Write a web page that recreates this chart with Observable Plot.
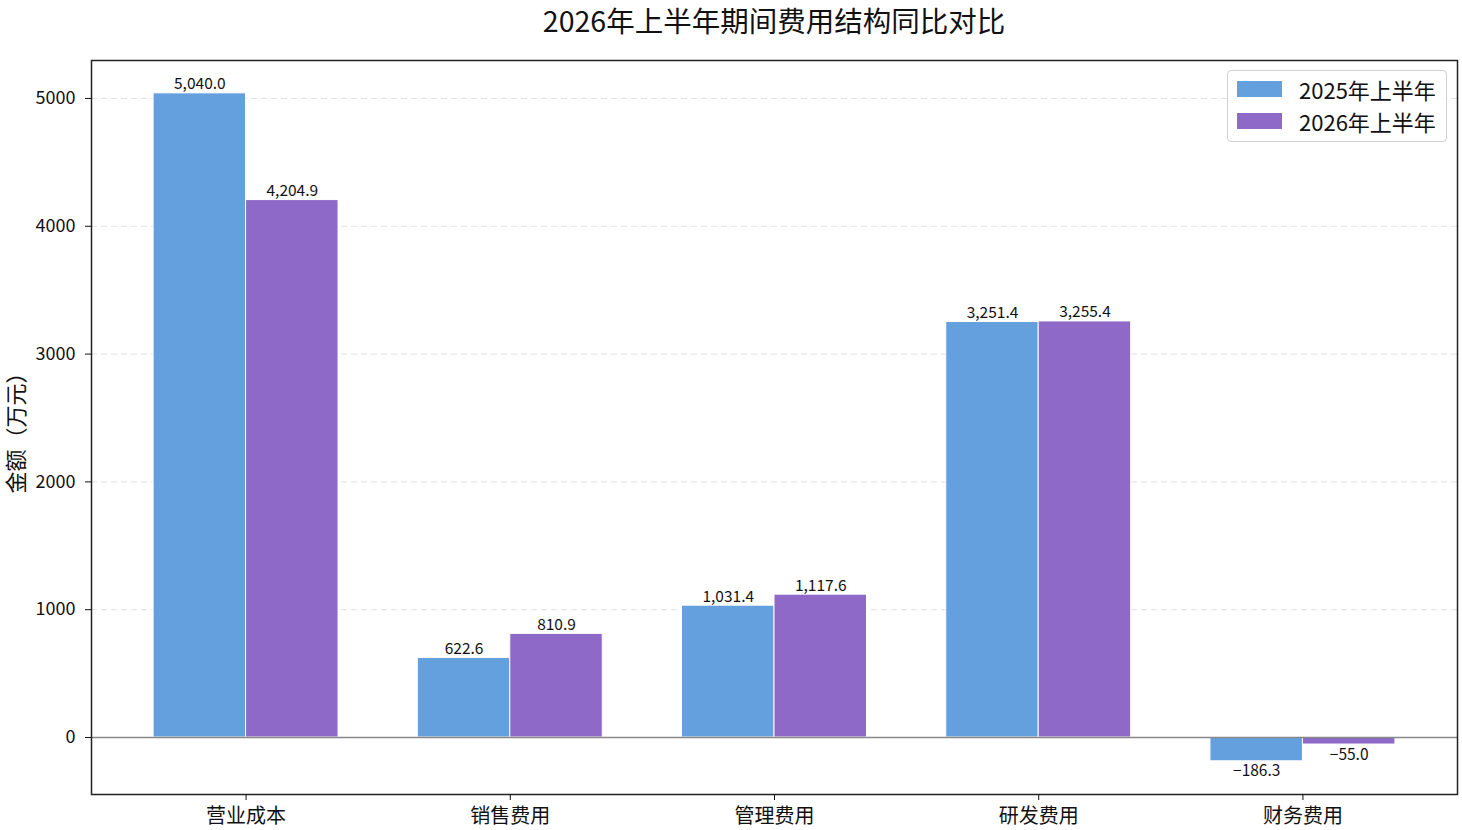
<!DOCTYPE html>
<html>
<head>
<meta charset="utf-8">
<script src="https://cdn.jsdelivr.net/npm/d3@7"></script>
<script src="https://cdn.jsdelivr.net/npm/@observablehq/plot@0.6"></script>
<style>
  body { margin: 0; background: #fff; font-family: "Noto Sans CJK SC", "Noto Sans", sans-serif; }
  #wrap { position: relative; width: 1462px; height: 830px; }
  #title { height: 40px; line-height: 40px; text-align: center; font-size: 28.5px; color: #111; padding-left: 91px; padding-right: 5px; box-sizing: border-box; }
  #legend { position: absolute; left: 1227px; top: 70px; width: 220px; height: 72px; border: 1.5px solid #d0d0d0; border-radius: 4px; background: rgba(255,255,255,0.9); box-sizing: border-box; }
  .item { position: absolute; left: 9px; display: flex; align-items: center; font-size: 22px; color: #111; }
  .sw { width: 45px; height: 16px; margin-right: 17px; }
  svg { display: block; overflow: visible; }
</style>
</head>
<body>
<div id="wrap">
  <div id="title">2026年上半年期间费用结构同比对比</div>
  <div id="chart"></div>
  <div id="legend"></div>
</div>
<script>
const categories = ["营业成本", "销售费用", "管理费用", "研发费用", "财务费用"];
const series = ["2025年上半年", "2026年上半年"];
const values2025 = [5040.0, 622.6, 1031.4, 3251.4, -186.3];
const values2026 = [4204.9, 810.9, 1117.6, 3255.4, -55.0];
const yTicks = [0, 1000, 2000, 3000, 4000, 5000];
const colors = ["#65A0DE", "#8E69C7"];

const barWidth = 0.35;
const rows = [];
categories.forEach((c, i) => {
  [values2025, values2026].forEach((vals, s) => {
    rows.push({i, category: c, series: series[s], value: vals[i],
      x1: i - barWidth + s * barWidth, x2: i + s * barWidth});
  });
});
const fmt = d3.format(",.1f");
const font = "Noto Sans CJK SC";

const chart = Plot.plot({
  width: 1462,
  height: 790,
  marginTop: 20,
  marginBottom: 36,
  marginLeft: 91,
  marginRight: 5,
  style: {fontFamily: font, fontSize: "18px", color: "#111", background: "white"},
  x: {type: "linear", domain: [-0.585, 4.585]},
  y: {domain: [-446, 5297]},
  color: {domain: series, range: colors},
  marks: [
    Plot.gridY(yTicks.filter(t => t !== 0), {stroke: "#d8d8d8", strokeOpacity: 0.8, strokeDasharray: "6,4", strokeWidth: 1}),
    Plot.rectY(rows, {x1: "x1", x2: "x2", y1: 0, y2: "value", fill: "series", stroke: "white", strokeWidth: 1}),
    Plot.ruleY([0], {stroke: "#888", strokeWidth: 1.3}),
    Plot.text(rows.filter(d => d.value >= 0), {x: d => (d.x1 + d.x2) / 2, y: "value", text: d => fmt(d.value), lineAnchor: "bottom", dy: -4, fontSize: 15.5, fill: "#111"}),
    Plot.text(rows.filter(d => d.value < 0), {x: d => (d.x1 + d.x2) / 2, y: "value", text: d => fmt(d.value), lineAnchor: "top", dy: 4, fontSize: 15.5, fill: "#111"}),
    Plot.frame({stroke: "#222", strokeWidth: 1.5}),
    Plot.axisY(yTicks, {tickSize: 6, tickPadding: 10, tickFormat: d => String(d), fontSize: 18, label: "金额（万元）", labelAnchor: "center", labelArrow: "none", labelOffset: 83}),
    Plot.axisX(d3.range(categories.length), {tickSize: 6, tickPadding: 8, tickFormat: i => categories[i], fontSize: 20, label: null})
  ]
});
document.getElementById("chart").appendChild(chart);

// enlarge y-axis label
chart.querySelectorAll("g[aria-label='y-axis label'] text").forEach(t => {
  t.setAttribute("font-size", "22");
});

const legend = document.getElementById("legend");
series.forEach((s, k) => {
  const it = document.createElement("div");
  it.className = "item";
  it.style.top = (k === 0 ? 2 : 34) + "px";
  it.innerHTML = `<span class="sw" style="background:${colors[k]}"></span><span>${s}</span>`;
  legend.appendChild(it);
});
</script>
</body>
</html>
